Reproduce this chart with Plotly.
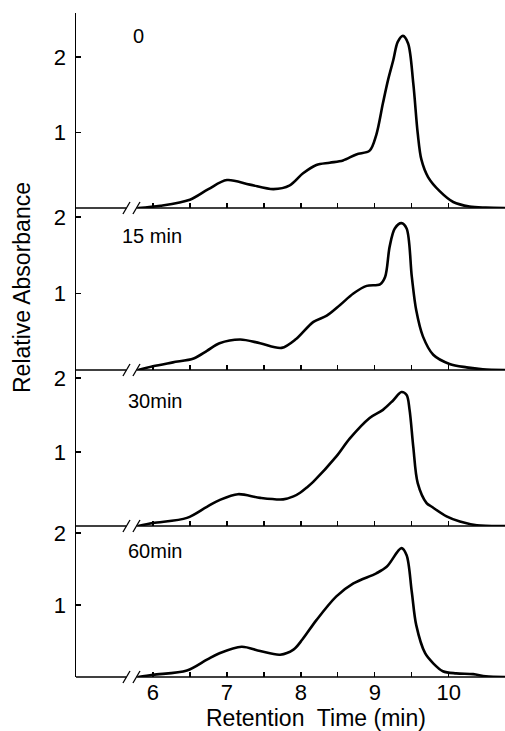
import plotly.graph_objects as go

# ---------------- data ----------------
panel_labels = ["0", "15 min", "30min", "60min"]

x_0 = [5.8, 6.1, 6.5, 6.75, 7.0, 7.31, 7.63, 7.85, 8.03, 8.21, 8.39, 8.57, 8.75, 8.93,
       9.02, 9.11, 9.18, 9.25, 9.31, 9.38, 9.45, 9.52, 9.58, 9.63, 9.72, 9.88,
       10.06, 10.28, 10.5, 10.76]
y_0 = [0, 0.03, 0.11, 0.25, 0.37, 0.31, 0.25, 0.30, 0.46, 0.57, 0.60, 0.63, 0.71, 0.76,
       0.97, 1.39, 1.70, 1.96, 2.20, 2.28, 2.18, 1.65, 0.99, 0.64, 0.41, 0.22,
       0.08, 0.02, 0.005, 0]

x_15 = [5.8, 6.0, 6.27, 6.55, 6.73, 6.9, 7.18, 7.45, 7.74, 7.94, 8.17, 8.35, 8.53, 8.71,
        8.89, 9.07, 9.14, 9.2, 9.27, 9.36, 9.43, 9.5, 9.56, 9.65, 9.79, 10.01, 10.24,
        10.46, 10.76]
y_15 = [0, 0.05, 0.1, 0.15, 0.25, 0.35, 0.40, 0.35, 0.29, 0.41, 0.63, 0.71, 0.85, 1.0,
        1.10, 1.12, 1.22, 1.61, 1.85, 1.92, 1.85, 1.22, 0.78, 0.44, 0.2, 0.08, 0.035,
        0.01, 0]

x_30 = [5.8, 6.0, 6.46, 6.73, 6.9, 7.15, 7.45, 7.76, 7.9, 7.99, 8.08, 8.17, 8.48, 8.66,
        8.93, 9.11, 9.25, 9.36, 9.43, 9.47, 9.52, 9.58, 9.70, 9.77, 9.97, 10.15, 10.38,
        10.76]
y_30 = [0, 0.04, 0.11, 0.26, 0.35, 0.43, 0.38, 0.36, 0.40, 0.45, 0.52, 0.60, 0.94, 1.18,
        1.46, 1.57, 1.70, 1.81, 1.77, 1.57, 1.07, 0.58, 0.31, 0.26, 0.13, 0.06, 0.01, 0]

x_60 = [5.8, 6.0, 6.46, 6.73, 6.9, 7.2, 7.45, 7.72, 7.9, 8.02, 8.21, 8.48, 8.71, 9.02,
        9.16, 9.36, 9.43, 9.50, 9.56, 9.68, 9.79, 9.92, 10.1, 10.33, 10.5, 10.76]
y_60 = [0, 0.03, 0.09, 0.24, 0.33, 0.42, 0.36, 0.31, 0.38, 0.52, 0.79, 1.12, 1.30, 1.44,
        1.53, 1.79, 1.69, 1.18, 0.72, 0.33, 0.19, 0.08, 0.05, 0.04, 0.01, 0]

x_tickvals = [6, 6.5, 7, 7.5, 8, 8.5, 9, 9.5, 10]
x_ticktext = ["6", "", "7", "", "8", "", "9", "", "10"]
y_tickvals = [1, 2]
y_ticktext = ["1", "2"]

series = [(x_0, y_0), (x_15, y_15), (x_30, y_30), (x_60, y_60)]

# ---------------- layout geometry ----------------
FONT = "Liberation Sans, Arial, sans-serif"
W, H = 505, 731
ML, MR, MT, MB = 76, 0, 13, 54
XR = [4.96, 10.76]
# domains (bottom, top) in paper units, top panel first
domains = [[0.7063, 1.0], [0.4623, 0.7063], [0.2274, 0.4623], [0.0, 0.2274]]
yranges = [[0, 2.583], [0, 2.118], [0, 2.108], [0, 2.097]]
label_pos = [(0.1457, 0.965), (0.178, 0.664), (0.185, 0.4157), (0.184, 0.19)]

fig = go.Figure()
shapes = []
annotations = []

for i, (xs, ys) in enumerate(series):
    n = "" if i == 0 else str(i + 1)
    fig.add_trace(go.Scatter(
        x=xs, y=ys, mode="lines",
        line=dict(color="black", width=2.6, shape="spline", smoothing=0.9),
        xaxis="x" + n, yaxis="y" + n, showlegend=False, hoverinfo="skip"))

    bottom = (i == 3)
    fig.update_layout(**{
        "xaxis" + n: dict(
            domain=[0, 1], range=XR, anchor="y" + n,
            showline=False, zeroline=False, showgrid=False,
            ticks="inside", ticklen=5, tickwidth=1.3, tickcolor="black",
            tickvals=x_tickvals, ticktext=x_ticktext,
            showticklabels=bottom,
            tickfont=dict(family=FONT, size=22, color="black"),
        ),
        "yaxis" + n: dict(
            domain=domains[i], range=yranges[i], anchor="x" + n,
            showline=True, linecolor="black", linewidth=1.5,
            zeroline=False, showgrid=False,
            ticks="inside", ticklen=5, tickwidth=1.5, tickcolor="black",
            tickvals=y_tickvals, ticktext=y_ticktext,
            ticklabelstandoff=4,
            tickfont=dict(family=FONT, size=22, color="black"),
        ),
    })

    xr = "x" + n
    yd = "y" + n + " domain" if n else "y domain"
    # baseline with axis break
    shapes.append(dict(type="line", xref=xr, yref=yd, x0=XR[0], x1=5.64, y0=0, y1=0,
                       line=dict(color="black", width=1.5), layer="above"))
    shapes.append(dict(type="line", xref=xr, yref=yd, x0=5.78, x1=XR[1], y0=0, y1=0,
                       line=dict(color="black", width=1.5), layer="above"))
    for (a, b) in [(5.595, 5.69), (5.73, 5.825)]:
        shapes.append(dict(type="line", xref=xr, yref=yd, ysizemode="pixel", yanchor=0,
                           x0=a, x1=b, y0=-6, y1=6,
                           line=dict(color="black", width=1.3), layer="above"))

    lx, ly = label_pos[i]
    annotations.append(dict(text=panel_labels[i], xref="paper", yref="paper",
                            x=lx, y=ly, xanchor="center", yanchor="middle",
                            showarrow=False,
                            font=dict(family=FONT, size=20, color="black")))

annotations.append(dict(text="Relative Absorbance", xref="paper", yref="paper",
                        x=(22 - ML) / (W - ML - MR), y=(H - MB - 288) / (H - MT - MB),
                        xanchor="center", yanchor="middle", textangle=-90,
                        showarrow=False,
                        font=dict(family=FONT, size=23, color="black")))
annotations.append(dict(text="Retention  Time (min)", xref="paper", yref="paper",
                        x=(316 - ML) / (W - ML - MR), y=(H - MB - 718) / (H - MT - MB),
                        xanchor="center", yanchor="middle",
                        showarrow=False,
                        font=dict(family=FONT, size=23, color="black")))

fig.update_layout(
    width=W, height=H,
    margin=dict(l=ML, r=MR, t=MT, b=MB, pad=0),
    paper_bgcolor="white", plot_bgcolor="white",
    shapes=shapes, annotations=annotations,
    showlegend=False,
)

fig.write_html("out.html",
               config={"displayModeBar": False, "staticPlot": True},
               post_script="document.body.style.margin='0';document.body.style.overflow='hidden';")
